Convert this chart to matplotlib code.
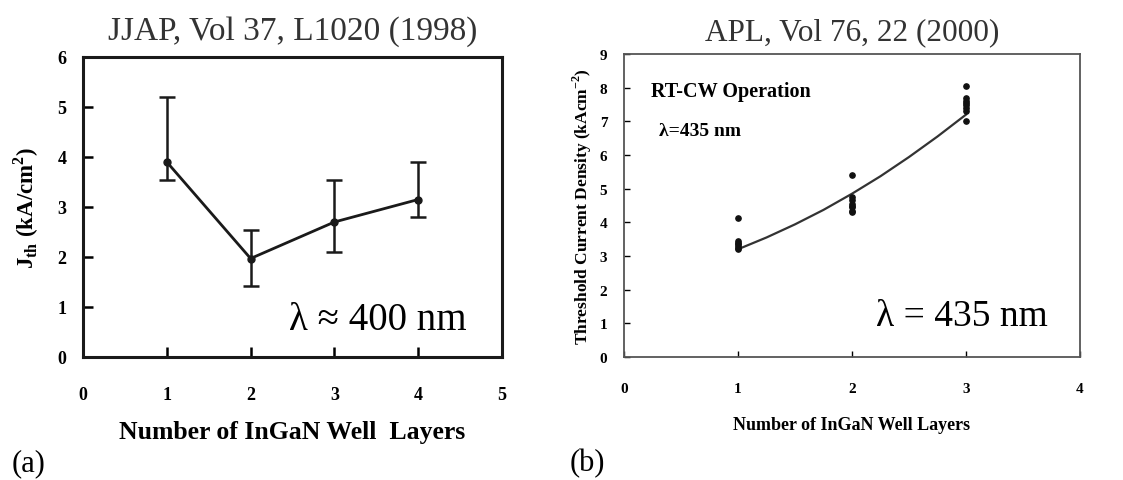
import matplotlib
matplotlib.use("Agg")
import matplotlib.pyplot as plt

plt.rcParams["font.family"] = ["Liberation Serif", "DejaVu Serif"]
plt.rcParams["mathtext.fontset"] = "custom"
plt.rcParams["mathtext.rm"] = "Liberation Serif"
plt.rcParams["mathtext.bf"] = "Liberation Serif:bold"

# (a) JJAP 1998: threshold current density vs. number of wells
wells_a = [1, 2, 3, 4]
jth_a = [3.9, 1.97, 2.7, 3.15]
jth_a_hi = [5.2, 2.55, 3.55, 3.9]
jth_a_lo = [3.55, 1.42, 2.1, 2.8]

# (b) APL 2000: measured points and fitted curve
wells_b = [1, 1, 1, 1, 1, 1, 1,
           2, 2, 2, 2, 2, 2, 2, 2,
           3, 3, 3, 3, 3, 3, 3, 3]
jth_b = [4.12, 3.45, 3.4, 3.35, 3.3, 3.25, 3.2,
         5.4, 4.75, 4.65, 4.55, 4.5, 4.45, 4.35, 4.3,
         8.05, 7.7, 7.6, 7.55, 7.5, 7.4, 7.3, 7.0]
fit_x = [1.0, 1.25, 1.5, 1.75, 2.0, 2.25, 2.5, 2.75, 3.0]
fit_y = [3.2, 3.55, 3.94, 4.37, 4.85, 5.37, 5.94, 6.55, 7.2]

W, H = 1123, 481
fig = plt.figure(figsize=(W / 100, H / 100), dpi=100)


def px_axes(x0, y0, x1, y1):
    return fig.add_axes([x0 / W, 1 - y1 / H, (x1 - x0) / W, (y1 - y0) / H])


# ---- panel (a)
ax = px_axes(83, 58, 502, 358)
yerr = [[j - lo for j, lo in zip(jth_a, jth_a_lo)], [hi - j for j, hi in zip(jth_a, jth_a_hi)]]
ax.errorbar(wells_a, jth_a, yerr=yerr, color="#1a1a1a", lw=2.0, marker="o", ms=5,
            capsize=6, capthick=1.8, elinewidth=1.8)
ax.set_xlim(0, 5)
ax.set_ylim(0, 6)
ax.set_xticks(range(0, 6))
ax.set_yticks(range(0, 7))
ax.tick_params(axis="x", direction="in", length=7, width=1.8, pad=21, labelsize=13)
ax.tick_params(axis="y", direction="in", length=7, width=1.8, pad=12, labelsize=13)
for lbl in ax.get_xticklabels() + ax.get_yticklabels():
    lbl.set_fontweight("bold")
for s in ax.spines.values():
    s.set_linewidth(2.2)
    s.set_color("#1a1a1a")
ax.set_title("JJAP, Vol 37, L1020 (1998)", fontsize=24, pad=13, color="#333333")
ax.set_xlabel("Number of InGaN Well  Layers", fontsize=18.5, fontweight="bold", labelpad=12)
ax.set_ylabel(r"J$_\mathbf{th}$ (kA/cm$^\mathbf{2}$)", fontsize=16.5, fontweight="bold", labelpad=12)
ax.text(0.915, 0.125, "λ ≈ 400 nm", transform=ax.transAxes, ha="right", va="center", fontsize=28)
fig.text(12 / W, 3 / H, "(a)", fontsize=22, va="bottom", ha="left")

# ---- panel (b)
bx = px_axes(624, 55, 1080, 358)
bx.plot(fit_x, fit_y, color="#333333", lw=1.6)
bx.plot(wells_b, jth_b, "o", color="#111111", ms=3.8, ls="none")
bx.set_xlim(0, 4)
bx.set_ylim(0, 9)
bx.set_xticks(range(0, 5))
bx.set_yticks(range(0, 10))
bx.tick_params(axis="x", direction="in", length=4, width=1.0, pad=18, labelsize=11)
bx.tick_params(axis="y", direction="in", length=4, width=1.0, pad=12, labelsize=11)
for lbl in bx.get_xticklabels() + bx.get_yticklabels():
    lbl.set_fontweight("bold")
for s in bx.spines.values():
    s.set_linewidth(1.3)
    s.set_color("#555555")
bx.set_title("APL, Vol 76, 22 (2000)", fontsize=22.5, pad=11, color="#333333")
bx.set_xlabel("Number of InGaN Well Layers", fontsize=13, fontweight="bold", labelpad=15)
bx.set_ylabel(r"Threshold Current Density (kAcm$^{\mathbf{-2}}$)", fontsize=12.5,
              fontweight="bold", labelpad=4)
bx.text(0.06, 0.878, "RT-CW Operation", transform=bx.transAxes, ha="left", va="center",
        fontsize=14.5, fontweight="bold")
bx.text(0.077, 0.746, "λ=435 nm", transform=bx.transAxes, ha="left", va="center",
        fontsize=14, fontweight="bold")
bx.text(0.93, 0.135, "λ = 435 nm", transform=bx.transAxes, ha="right", va="center", fontsize=27)
fig.text(570 / W, 3 / H, "(b)", fontsize=22, va="bottom", ha="left")

fig.savefig("out.png", dpi=100, facecolor="white")
